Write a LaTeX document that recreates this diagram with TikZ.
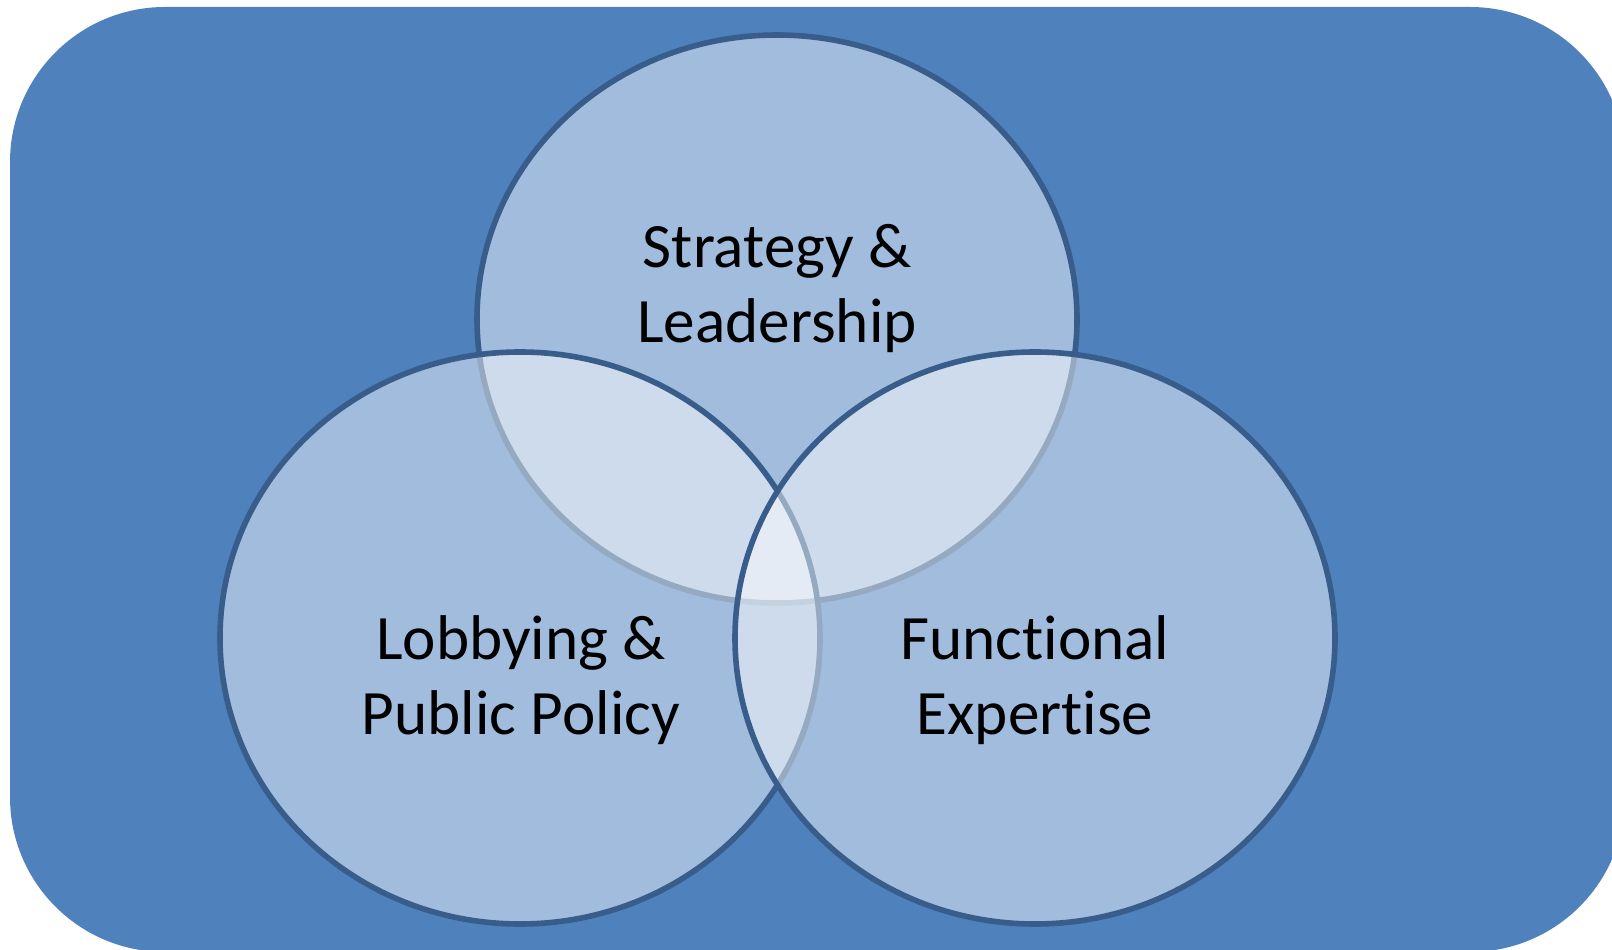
\documentclass[tikz,border=0pt]{standalone}
\usepackage{fontspec}
\setmainfont[RawFeature={-liga;-dlig;-clig}]{Carlito}
\definecolor{bgblue}{RGB}{79,129,189}
\definecolor{ringblue}{RGB}{56,93,138}
\begin{document}
\begin{tikzpicture}[x=0.5pt,y=0.5pt,
  venn/.style={fill=white,fill opacity=0.47,draw=ringblue,draw opacity=1,line width=2.8pt},
  vlabel/.style={align=center,text=black,font=\fontsize{31.6pt}{37.5pt}\selectfont,inner sep=0pt}]
\useasboundingbox (0,0) rectangle (1612,949);
\fill[bgblue,rounded corners=77.5pt] (10,-3) rectangle (1625,942);
% top circle
\draw[venn] (777,630) ellipse [x radius=300, y radius=284];
% left circle
\draw[venn] (520,311) ellipse [x radius=300, y radius=286];
% right circle
\draw[venn] (1035,311) ellipse [x radius=300, y radius=286];
\node[vlabel] (sl) at (777,660) {Strategy \&\\Leadership};
\node[vlabel] (lp) at (521,269) {Lobbying \&\\Public Policy};
\node[vlabel] (fe) at (1035,269) {Functional\\Expertise};
\end{tikzpicture}
\end{document}
